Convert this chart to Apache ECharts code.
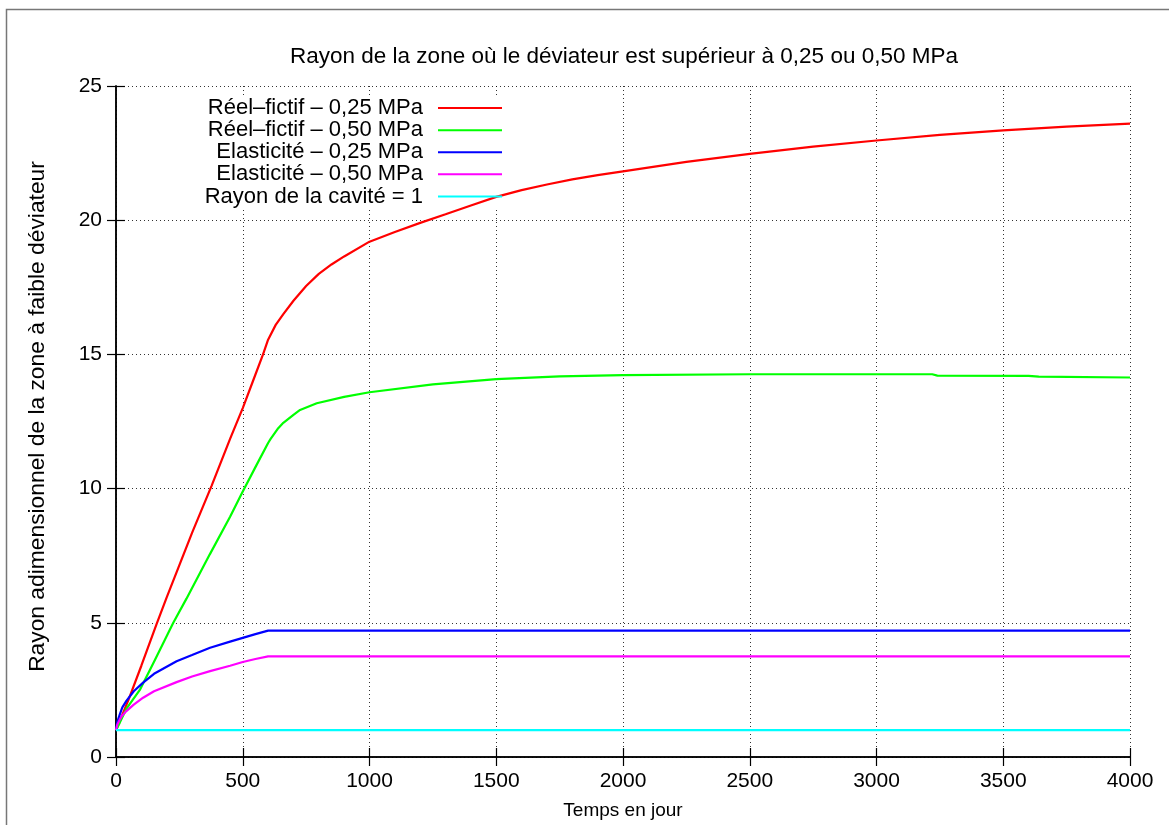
<!DOCTYPE html>
<html>
<head>
<meta charset="utf-8">
<script src="https://cdn.jsdelivr.net/npm/echarts@6/dist/echarts.min.js"></script>
<style>
html,body{margin:0;padding:0;background:#fff;}
#chart{width:1169px;height:825px;}
</style>
</head>
<body>
<div id="chart"></div>
<script>
const titleText = "Rayon de la zone où le déviateur est supérieur à 0,25 ou 0,50 MPa";
const xName = "Temps en jour";
const yName = "Rayon adimensionnel de la zone à faible déviateur";
const seriesNames = ["Réel\u2013fictif \u2013 0,25 MPa", "Réel\u2013fictif \u2013 0,50 MPa", "Elasticité \u2013 0,25 MPa", "Elasticité \u2013 0,50 MPa", "Rayon de la cavité = 1"];
const seriesColors = ["#ff0000", "#00ff00", "#0000ff", "#ff00ff", "#00ffff"];

const redT = [0, 50, 100, 160, 200, 250, 300, 377, 450, 500, 540, 580, 600, 630, 660, 700, 750, 800, 850, 900, 1000, 1100, 1200, 1300, 1400, 1500, 1600, 1700, 1800, 1900, 2000, 2250, 2500, 2750, 3000, 3250, 3500, 3750, 4000];
const redR = [1.0, 2.15, 3.4, 4.95, 5.95, 7.15, 8.35, 10.1, 11.85, 13.0, 14.0, 15.0, 15.55, 16.1, 16.5, 17.0, 17.55, 18.0, 18.35, 18.65, 19.2, 19.56, 19.9, 20.22, 20.55, 20.87, 21.12, 21.33, 21.52, 21.68, 21.82, 22.17, 22.47, 22.74, 22.97, 23.18, 23.35, 23.49, 23.6];

const greenT = [0, 15, 40, 94, 150, 226, 278, 370, 450, 495, 550, 600, 610, 640, 660, 700, 726, 792, 900, 1000, 1250, 1500, 1750, 2000, 2500, 3000, 3220, 3240, 3600, 3640, 4000];
const greenR = [1.0, 1.28, 1.78, 2.5, 3.55, 5.0, 5.9, 7.55, 8.95, 9.8, 10.8, 11.7, 11.85, 12.25, 12.45, 12.75, 12.93, 13.18, 13.42, 13.59, 13.88, 14.08, 14.18, 14.23, 14.26, 14.26, 14.26, 14.21, 14.2, 14.17, 14.14];

const blueT = [0, 5, 15, 25, 41, 70, 107, 150, 239, 300, 371, 450, 500, 550, 600, 4000];
const blueR = [1.0, 1.3, 1.59, 1.85, 2.09, 2.45, 2.77, 3.1, 3.57, 3.8, 4.07, 4.3, 4.44, 4.58, 4.71, 4.71];

const magT = [0, 5, 15, 25, 41, 70, 107, 150, 239, 300, 371, 450, 500, 550, 600, 4000];
const magR = [1.0, 1.2, 1.4, 1.55, 1.71, 1.95, 2.21, 2.45, 2.79, 3.0, 3.2, 3.4, 3.54, 3.65, 3.75, 3.75];

const cyanT = [0, 4000];
const cyanR = [1.0, 1.0];

const xTicks = {min: 0, max: 4000, interval: 500};
const yTicks = {min: 0, max: 25, interval: 5};

function pairs(t, r) { return t.map((v, i) => [v, r[i]]); }
const allData = [pairs(redT, redR), pairs(greenT, greenR), pairs(blueT, blueR), pairs(magT, magR), pairs(cyanT, cyanR)];

const FONT = "'Liberation Sans', Arial, Helvetica, sans-serif";
const chart = echarts.init(document.getElementById('chart'), null, {renderer: 'canvas'});

const axisLineStyle = {show: true, lineStyle: {color: '#000', width: 1.5}};
const gridLine = {show: true, lineStyle: {color: '#000', width: 1, type: [1, 3], opacity: 0.8}};
const tickStyle = {show: true, inside: true, length: 9, lineStyle: {color: '#000', width: 1.2}};

chart.setOption({
  animation: false,
  backgroundColor: '#fff',
  textStyle: {fontFamily: FONT},
  title: {
    text: titleText,
    left: 619,
    top: 40,
    textAlign: 'center',
    textStyle: {fontFamily: FONT, fontSize: 22.5, fontWeight: 'normal', color: '#000'}
  },
  graphic: [{
    type: 'rect',
    shape: {x: 6.5, y: 9.5, width: 1300, height: 1000},
    style: {fill: 'none', stroke: '#777', lineWidth: 1.5},
    silent: true
  }, {
    type: 'rect',
    z: 1,
    shape: {x: 180, y: 96, width: 332, height: 111},
    style: {fill: '#fff', stroke: 'none'},
    silent: true
  }],
  grid: {left: 116, right: 39, top: 86, bottom: 67},
  legend: {
    orient: 'vertical',
    left: 193,
    top: 97,
    padding: 0,
    align: 'right',
    itemGap: 0,
    itemWidth: 64,
    itemHeight: 2,
    icon: 'rect',
    selectedMode: false,
    data: seriesNames,
    textStyle: {fontFamily: FONT, fontSize: 22, color: '#000', width: 230, align: 'right', lineHeight: 22.1, padding: [0, 10, 0, 0]}
  },
  xAxis: [{
    type: 'value', min: xTicks.min, max: xTicks.max, interval: xTicks.interval,
    name: xName, nameLocation: 'middle', nameGap: 44,
    nameTextStyle: {fontFamily: FONT, fontSize: 19, color: '#000'},
    axisLine: axisLineStyle,
    axisTick: tickStyle,
    axisLabel: {fontFamily: FONT, fontSize: 21, color: '#000', margin: 14, formatter: v => String(v)},
    splitLine: gridLine
  }, {
    type: 'value', position: 'top', min: xTicks.min, max: xTicks.max, interval: xTicks.interval,
    axisLine: axisLineStyle,
    axisTick: tickStyle,
    axisLabel: {show: false},
    splitLine: {show: false}
  }],
  yAxis: [{
    type: 'value', min: yTicks.min, max: yTicks.max, interval: yTicks.interval,
    name: yName, nameLocation: 'middle', nameGap: 67,
    nameTextStyle: {fontFamily: FONT, fontSize: 22.8, color: '#000', padding: [0, 0, 0, 10]},
    axisLine: axisLineStyle,
    axisTick: tickStyle,
    axisLabel: {fontFamily: FONT, fontSize: 21, color: '#000', margin: 14, formatter: v => String(v)},
    splitLine: gridLine
  }, {
    type: 'value', position: 'right', min: yTicks.min, max: yTicks.max, interval: yTicks.interval,
    axisLine: axisLineStyle,
    axisTick: tickStyle,
    axisLabel: {show: false},
    splitLine: {show: false}
  }],
  series: seriesNames.map((name, i) => ({
    name: name,
    type: 'line',
    xAxisIndex: 0,
    yAxisIndex: 0,
    data: allData[i],
    showSymbol: false,
    symbol: 'none',
    smooth: false,
    z: 3,
    itemStyle: {color: seriesColors[i]},
    lineStyle: {color: seriesColors[i], width: 2.2},
    emphasis: {disabled: true}
  }))
});
</script>
</body>
</html>
